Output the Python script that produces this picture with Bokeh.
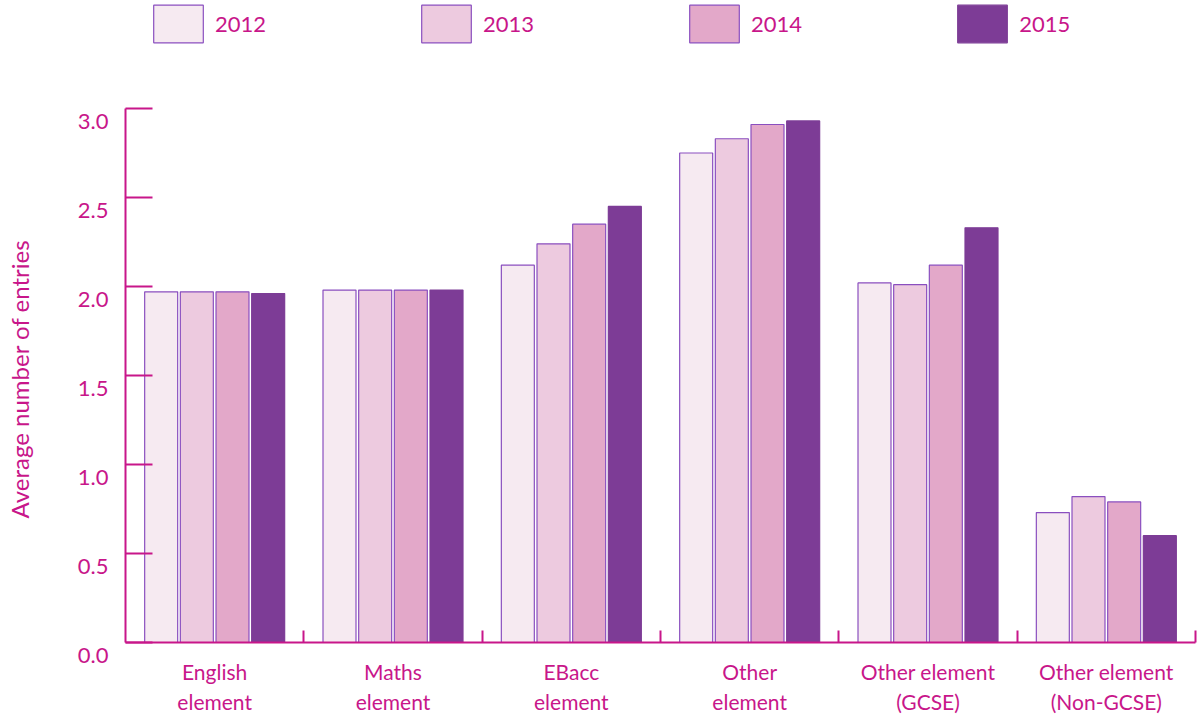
from bokeh.plotting import figure
from bokeh.models import FixedTicker, Legend, LegendItem, Range1d, ColumnDataSource, Title
from bokeh.embed import file_html
from bokeh.resources import INLINE

categories = ["English\nelement", "Maths\nelement", "EBacc\nelement", "Other\nelement",
              "Other element\n(GCSE)", "Other element\n(Non-GCSE)"]
years = ["2012", "2013", "2014", "2015"]
v2012 = [1.97, 1.98, 2.12, 2.75, 2.02, 0.73]
v2013 = [1.97, 1.98, 2.24, 2.83, 2.01, 0.82]
v2014 = [1.97, 1.98, 2.35, 2.91, 2.12, 0.79]
v2015 = [1.96, 1.98, 2.45, 2.93, 2.33, 0.60]
y_ticks = [0.0, 0.5, 1.0, 1.5, 2.0, 2.5, 3.0]

series = [v2012, v2013, v2014, v2015]
fills = ["#F6EAF1", "#EDCADF", "#E3A8C9", "#7D3C96"]
lines = ["#8A4FBF", "#8A4FBF", "#8A4FBF", "#7D3C96"]
offsets = [-0.3, -0.1, 0.1, 0.3]
MAG = "#C8168A"
FONT = "Lato"

# frame spans y = 0..642 px; 3.0 sits at 108 px -> top of range = 3.0 * 642 / 534
p = figure(width=1201, height=716, output_backend="svg", toolbar_location=None,
           x_range=Range1d(0, 6), y_range=Range1d(0, 3.0 * 642 / 534),
           min_border_left=125, min_border_right=6, min_border_top=0, min_border_bottom=74)
p.outline_line_color = None
p.xgrid.grid_line_color = None
p.ygrid.grid_line_color = None

centers = [i + 0.5 for i in range(len(categories))]
renderers = []
for vals, off, fc, lc in zip(series, offsets, fills, lines):
    src = ColumnDataSource(dict(x=[c + off for c in centers], top=vals))
    r = p.vbar(x="x", top="top", width=0.185, source=src, fill_color=fc,
               line_color=lc, line_width=1.2)
    renderers.append(r)

xa = p.xaxis[0]
xa.ticker = FixedTicker(ticks=centers, minor_ticks=[1, 2, 3, 4, 5, 6])
xa.major_label_overrides = {c: lab for c, lab in zip(centers, categories)}
xa.major_tick_line_color = None
xa.minor_tick_line_color = MAG
xa.minor_tick_line_width = 2
xa.minor_tick_in = 12
xa.minor_tick_out = 0
xa.axis_line_color = MAG
xa.axis_line_width = 2
xa.major_label_text_color = MAG
xa.major_label_text_font = FONT
xa.major_label_text_font_size = "21px"
xa.major_label_standoff = 10

ya = p.yaxis[0]
ya.bounds = (0, 3.0)
ya.ticker = FixedTicker(ticks=y_ticks)
ya.major_label_overrides = {t: "\n" + f"{t:.1f}" for t in y_ticks}
ya.major_label_text_line_height = 0.9
ya.major_tick_line_color = MAG
ya.major_tick_line_width = 2
ya.major_tick_in = 27
ya.major_tick_out = 0
ya.minor_tick_line_color = None
ya.axis_line_color = MAG
ya.axis_line_width = 2
ya.major_label_text_color = MAG
ya.major_label_text_font = FONT
ya.major_label_text_font_size = "22px"
ya.major_label_standoff = 17

ytitle = Title(text="Average number of entries\n\n", align="left", offset=124, standoff=0,
               text_color=MAG, text_font=FONT, text_font_size="24px", text_font_style="normal",
               text_line_height=0.7)
p.add_layout(ytitle, "left")

legend = Legend(items=[LegendItem(label=y, renderers=[r]) for y, r in zip(years, renderers)],
                orientation="horizontal", location=(22, 595),
                glyph_width=62, glyph_height=47, label_standoff=6, spacing=149,
                padding=0, margin=0, border_line_color=None, background_fill_alpha=0,
                label_text_color=MAG, label_text_font=FONT, label_text_font_size="22px")
p.add_layout(legend, "center")

open("out.html", "w").write(file_html(p, INLINE))
